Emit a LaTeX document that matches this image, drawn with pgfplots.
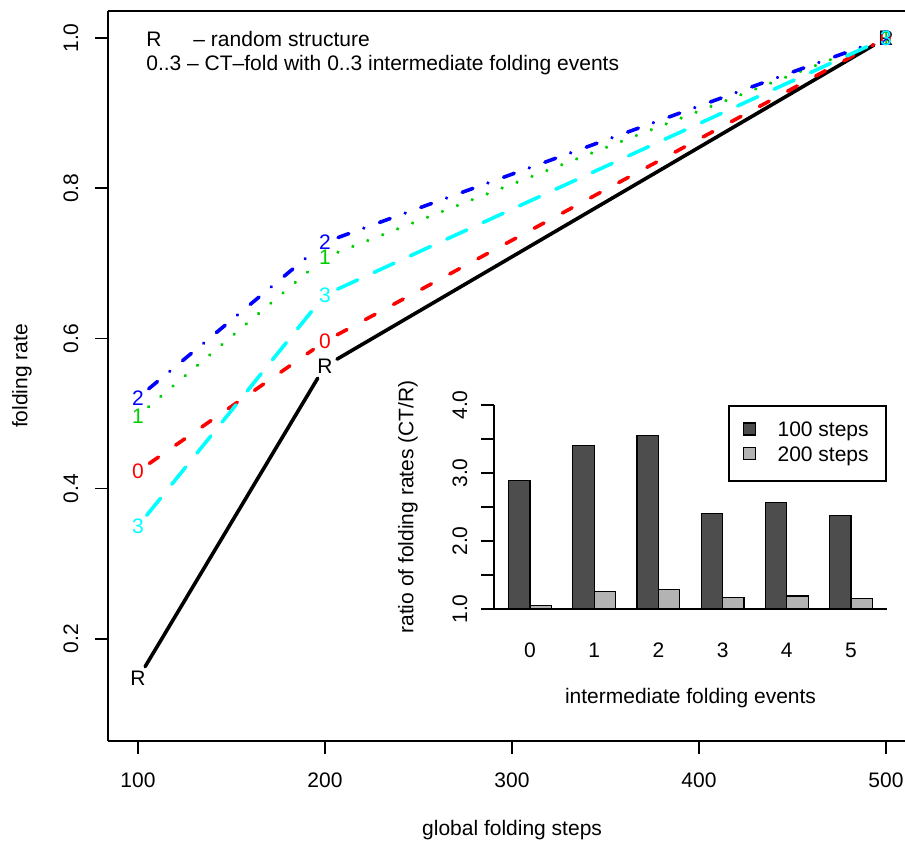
\documentclass[border=0pt]{standalone}
\usepackage{fontspec}
\setmainfont{Liberation Sans}
\usepackage{pgfplots}
\usepackage{pgfplotstable}
\pgfplotsset{compat=1.18}

\definecolor{rred}{RGB}{255,0,0}
\definecolor{rgreen}{RGB}{0,205,0}
\definecolor{rblue}{RGB}{0,0,255}
\definecolor{rcyan}{RGB}{0,255,255}
\definecolor{bardark}{RGB}{77,77,77}
\definecolor{barlight}{RGB}{179,179,179}

% folding rate vs. global folding steps
\pgfplotstableread{
x y
100 0.147
200 0.563
500 1.000
}\tR
\pgfplotstableread{
x y
100 0.423
200 0.596
500 1.000
}\tZero
\pgfplotstableread{
x y
100 0.497
200 0.708
500 1.000
}\tOne
\pgfplotstableread{
x y
100 0.521
200 0.728
500 1.000
}\tTwo
\pgfplotstableread{
x y
100 0.350
200 0.658
500 1.000
}\tThree

% ratio CT/R
\pgfplotstableread{
ev s100 s200
0 2.89 1.05
1 3.40 1.26
2 3.55 1.29
3 2.40 1.17
4 2.56 1.19
5 2.37 1.15
}\ratios

\pgfplotsset{
  seg/.style={line width=1.8pt, line cap=round, shorten <=7pt, shorten >=7pt},
  lab/.style={only marks, mark=text, text mark={#1}, text mark as node=true,
    text mark style={font=\fontsize{10.5}{12.6}\selectfont, inner sep=0pt}},
}
% type="b" look: two shortened segments plus the text points
\newcommand\series[4]{%
  \addplot[seg, color=#2, #3, restrict x to domain=100:200] table[x=x,y=y]{#1};
  \addplot[seg, color=#2, #3, restrict x to domain=200:500] table[x=x,y=y]{#1};
  \addplot[color=#2, lab={#4}] table[x=x,y=y]{#1};
}

\begin{document}
\begin{tikzpicture}[font=\fontsize{10.5}{12.6}\selectfont]
\path[use as bounding box] (-54pt,-50pt) rectangle (398.5pt,370.5pt);

\begin{axis}[
  scale only axis, width=398.5pt, height=365pt,
  xmin=84, xmax=510.2, ymin=0.064, ymax=1.036,
  axis x line*=bottom, axis y line*=left,
  axis line style={-, line width=0.8pt},
  clip=false,
  xtick={100,200,300,400,500}, ytick={0.2,0.4,0.6,0.8,1.0},
  tick align=outside, major tick length=6.5pt,
  tick style={line width=0.8pt, black},
  /pgf/number format/assume math mode=true,
  xticklabel style={anchor=center, yshift=-13pt},
  yticklabel style={/pgf/number format/.cd, fixed, fixed zerofill, precision=1,
    /tikz/.cd, xshift=-12pt, rotate=90, anchor=center},
  xlabel={global folding steps},
  ylabel={folding rate},
  xlabel style={at={(axis description cs:0.507,-0.1219)}, anchor=center},
  ylabel style={at={(axis description cs:-0.1079,0.5)}, anchor=center},
]
\series{\tR}{black}{solid}{R}
\series{\tZero}{rred}{dash pattern=on 5.5pt off 10.5pt}{0}
\series{\tOne}{rgreen}{dash pattern=on 0.01pt off 8pt}{1}
\series{\tTwo}{rblue}{dash pattern=on 5.7pt off 8pt on 0.01pt off 8.3pt}{2}
\series{\tThree}{rcyan}{dash pattern=on 11pt off 9pt}{3}

\draw[line width=0.8pt] (rel axis cs:0,1) -- (rel axis cs:1,1);
\node[anchor=base west, inner sep=0pt] at (axis cs:104.3,0.9884) {R};
\node[anchor=base west, inner sep=0pt] at (axis cs:129.5,0.9884) {– random structure};
\node[anchor=base west, inner sep=0pt] at (axis cs:104.3,0.9565) {0..3 – CT–fold with 0..3 intermediate folding events};
\end{axis}

\begin{axis}[
  at={(193pt,66pt)}, anchor=south west,
  scale only axis, width=196.5pt, height=106.1pt,
  xmin=-0.56, xmax=5.56, ymin=1, ymax=4.12,
  axis line style={draw=none},
  clip mode=individual,
  ybar, bar width=0.3333,
  xtick={0,1,2,3,4,5}, xtick style={draw=none},
  ytick={1,2,3,4}, minor ytick={1.5,2.5,3.5},
  ytick pos=left, xtick pos=bottom,
  tick align=outside, major tick length=6.5pt, minor tick length=6.5pt,
  ytick style={line width=0.8pt, black},
  minor tick style={line width=0.8pt, black},
  /pgf/number format/assume math mode=true,
  xticklabel style={anchor=center, yshift=-14pt},
  yticklabel style={/pgf/number format/.cd, fixed, fixed zerofill, precision=1,
    /tikz/.cd, xshift=-10.5pt, rotate=90, anchor=center},
  xlabel={intermediate folding events},
  ylabel={ratio of folding rates (CT/R)},
  xlabel style={at={(axis description cs:0.5,-0.4194)}, anchor=center},
  ylabel style={at={(axis description cs:-0.2188,0.4807)}, anchor=center},
  legend image code/.code={\draw[#1, line width=0.6pt] (0pt,-1.9pt) rectangle (6pt,4.1pt);},
  legend style={at={(1,0.961)}, anchor=north east, draw=black, line width=0.8pt,
    inner xsep=7pt, inner ysep=6.45pt, row sep=0pt,
    nodes={inner sep=1.75pt},
    /tikz/every odd column/.append style={column sep=9pt}},
  legend cell align=left,
]
\addplot[fill=bardark, draw=black, line width=0.6pt, bar shift=-0.16667] table[x=ev, y=s100]{\ratios};
\addplot[fill=barlight, draw=black, line width=0.6pt, bar shift=0.16667] table[x=ev, y=s200]{\ratios};
\legend{100 steps, 200 steps}
\draw[line width=0.8pt] (axis cs:-0.56,1) -- (axis cs:5.56,1);
\draw[line width=0.8pt] (axis cs:-0.56,1) -- (axis cs:-0.56,4);
\end{axis}
\end{tikzpicture}
\end{document}
